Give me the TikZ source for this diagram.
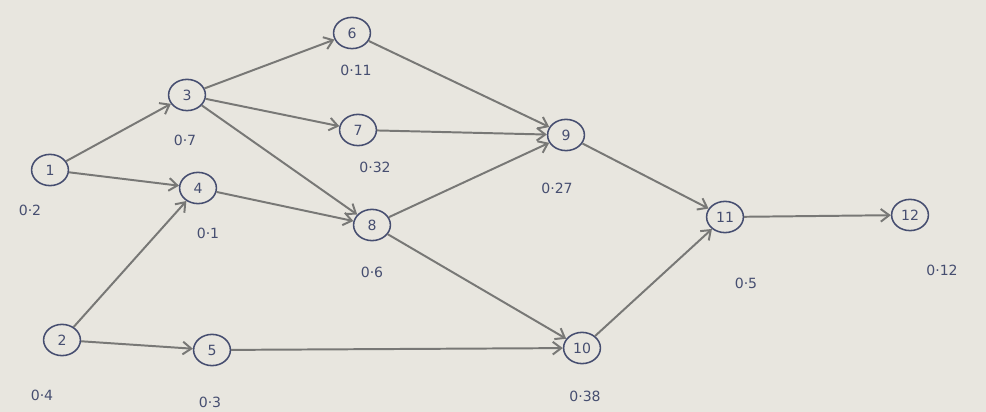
\documentclass[tikz,border=0pt]{standalone}
\usepackage{fontspec}
\setmainfont{DejaVu Sans}
\usetikzlibrary{shapes.geometric,arrows.meta}
\definecolor{bg}{RGB}{232,230,223}
\definecolor{ink}{RGB}{70,78,112}
\definecolor{edge}{RGB}{120,120,118}
\tikzset{
  x=0.025cm, y=-0.025cm,
  ev/.style={ellipse, draw=ink, line width=1.1pt, inner sep=0pt,
             minimum width=0.92cm, minimum height=0.78cm, text=ink, font=\normalsize},
  prob/.style={text=ink, font=\normalsize},
  link/.style={draw=edge, line width=1.4pt, -{Straight Barb[length=6pt,width=9pt]}}
}
\begin{document}
\begin{tikzpicture}
\fill[bg] (0,0) rectangle (986,412);
\useasboundingbox (0,0) rectangle (986,412);
\node[ev] (n1) at (50,170) {1};
\node[ev] (n2) at (62,340) {2};
\node[ev] (n3) at (187,95) {3};
\node[ev] (n4) at (198,188) {4};
\node[ev] (n5) at (212,350) {5};
\node[ev] (n6) at (352,33) {6};
\node[ev] (n7) at (358,130) {7};
\node[ev] (n8) at (372,225) {8};
\node[ev] (n9) at (566,135) {9};
\node[ev] (n10) at (582,348) {10};
\node[ev] (n11) at (725,217) {11};
\node[ev] (n12) at (910,215) {12};
\node[prob] (p1) at (30,210) {0·2};
\node[prob] (p2) at (42,395) {0·4};
\node[prob] (p3) at (185,140) {0·7};
\node[prob] (p4) at (208,233) {0·1};
\node[prob] (p5) at (210,402) {0·3};
\node[prob] (p6) at (356,70) {0·11};
\node[prob] (p7) at (375,167) {0·32};
\node[prob] (p8) at (372,272) {0·6};
\node[prob] (p9) at (557,188) {0·27};
\node[prob] (p10) at (585,396) {0·38};
\node[prob] (p11) at (746,283) {0·5};
\node[prob] (p12) at (942,270) {0·12};
\draw[link] (n1) -- (n3);
\draw[link] (n1) -- (n4);
\draw[link] (n2) -- (n4);
\draw[link] (n2) -- (n5);
\draw[link] (n3) -- (n6);
\draw[link] (n3) -- (n7);
\draw[link] (n3) -- (n8);
\draw[link] (n4) -- (n8);
\draw[link] (n5) -- (n10);
\draw[link] (n6) -- (n9);
\draw[link] (n7) -- (n9);
\draw[link] (n8) -- (n9);
\draw[link] (n8) -- (n10);
\draw[link] (n9) -- (n11);
\draw[link] (n10) -- (n11);
\draw[link] (n11) -- (n12);
\end{tikzpicture}
\end{document}
